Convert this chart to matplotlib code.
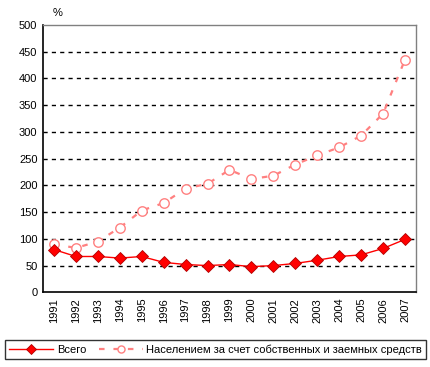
import matplotlib
matplotlib.use("Agg")
import matplotlib.pyplot as plt
import numpy as np

years = [str(y) for y in range(1991, 2008)]
total = [80, 67, 67, 64, 67, 56, 52, 50, 52, 48, 50, 54, 60, 67, 70, 82, 99]
population = [90, 83, 95, 121, 153, 167, 194, 203, 229, 212, 218, 239, 256, 271, 293, 334, 435]
label_total = "Всего"
label_pop = "Населением за счет собственных и заемных средств"

plt.rcParams['font.family'] = ['Liberation Sans', 'DejaVu Sans']
fig = plt.figure(figsize=(4.31, 3.67), dpi=100)
ax = fig.add_axes([0.0998, 0.2035, 0.8652, 0.7285])

x = np.arange(len(years))
ax.plot(x, total, color='#FF0000', lw=1, marker='D', markersize=6.5,
        markerfacecolor='#FF0000', markeredgecolor='#B00000', markeredgewidth=0.6,
        label=label_total, zorder=4)
ax.plot(x, population, color='#FF8080', lw=1.6, linestyle=(0, (2.5, 4)), marker='o',
        markersize=6.8, markerfacecolor='white', markeredgecolor='#FF8080',
        markeredgewidth=1.0, label=label_pop, zorder=3)

ax.set_xlim(-0.5, len(years) - 0.5)
ax.set_ylim(0, 500)
ax.set_yticks(range(0, 501, 50))
ax.set_xticks(x)
ax.set_xticklabels(years, rotation=90)
ax.tick_params(axis='both', labelsize=8, length=0, pad=4)
for yv in range(50, 500, 50):
    ax.axhline(yv, color='black', lw=1, linestyle=(0, (3, 3)), zorder=1)
for s in ['left', 'bottom']:
    ax.spines[s].set_color('black')
    ax.spines[s].set_linewidth(1.2)
for s in ['top', 'right']:
    ax.spines[s].set_color('#808080')
    ax.spines[s].set_linewidth(1.0)

fig.text(58 / 431, 1 - 13 / 367, '%', fontsize=8, ha='center', va='center')

leg = fig.legend(loc='lower left', bbox_to_anchor=(5 / 431, 1 - 358.5 / 367, 421 / 431, 22 / 367),
                 mode='expand', ncol=2, fontsize=8, frameon=True, fancybox=False,
                 borderaxespad=0, handlelength=4, columnspacing=1.0, borderpad=0.35,
                 handletextpad=0.3, markerscale=0.75)
leg.get_frame().set_edgecolor('black')
leg.get_frame().set_linewidth(1.0)

fig.savefig('out.png', dpi=100)
